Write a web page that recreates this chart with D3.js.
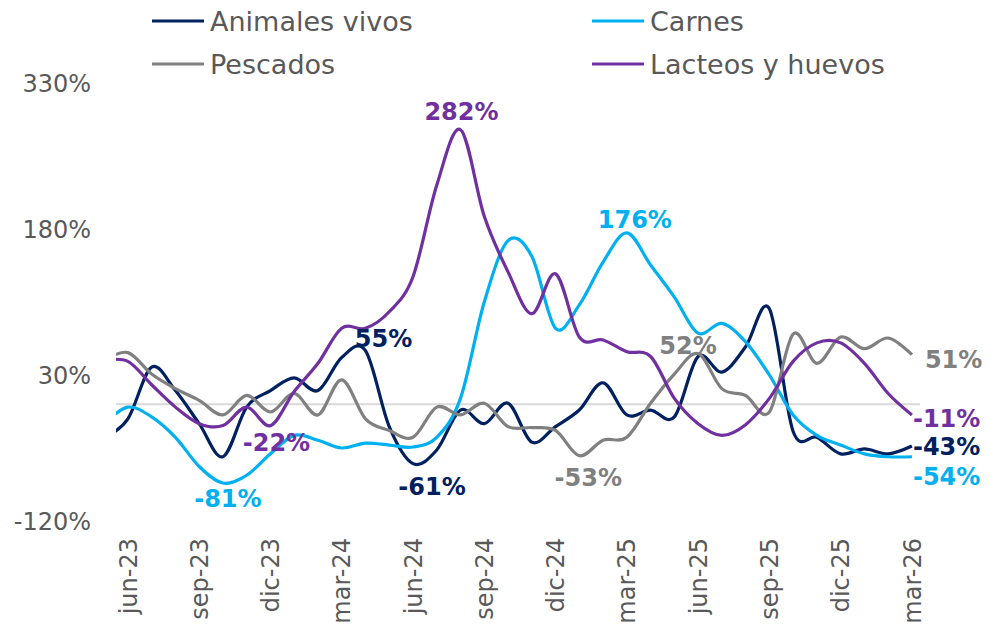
<!DOCTYPE html>
<html>
<head>
<meta charset="utf-8">
<script src="https://cdn.jsdelivr.net/npm/d3@7"></script>
<style>
body { margin: 0; background: #fff; }
svg text { font-family: "DejaVu Sans", sans-serif; }
</style>
</head>
<body>
<svg id="chart" width="990" height="633"></svg>
<script>
//////////////////////////////////////////
// Datos (variacion interanual, %)
// may-23 queda fuera del area visible, como en el grafico original
var meses = ["may-23","jun-23","jul-23","ago-23","sep-23","oct-23","nov-23","dic-23",
    "ene-24","feb-24","mar-24","abr-24","may-24","jun-24","jul-24","ago-24","sep-24",
    "oct-24","nov-24","dic-24","ene-25","feb-25","mar-25","abr-25","may-25","jun-25",
    "jul-25","ago-25","sep-25","oct-25","nov-25","dic-25","ene-26","feb-26","mar-26"];

var animales = [-35,-15,38,14,-20,-54,-3,14,27,14,48,55,-23,-61,-47,-6,-20,1,-39,-23,
    -6,22,-11,-6,-13,49,33,59,98,-28,-34,-51,-46,-51,-43];
var carnes = [-20,-3,-13,-34,-64,-81,-73,-51,-32,-37,-45,-40,-42,-44,-34,6,105,168,152,78,
    102,146,176,143,110,73,83,64,30,-11,-32,-42,-51,-54,-54];
var pescados = [45,53,31,16,4,-11,9,-8,11,-11,25,-15,-27,-34,-3,-11,1,-23,-24,-27,
    -53,-37,-34,1,31,52,16,9,-8,72,42,69,57,68,51];
var lacteos = [45,44,20,-3,-20,-22,-3,-22,13,42,78,78,95,131,225,282,193,136,93,134,
    69,66,54,49,6,-20,-32,-21,6,44,63,63,42,11,-11];

var nombres = ["Animales vivos","Carnes","Pescados","Lacteos y huevos"];
var colores = ["#002060","#00B0F0","#808080","#7030A0"];
var ticksY = [-120, 30, 180, 330];
var etiquetasX = ["jun-23","sep-23","dic-23","mar-24","jun-24","sep-24","dic-24",
    "mar-25","jun-25","sep-25","dic-25","mar-26"];
//////////////////////////////////////////

var series = [animales, carnes, pescados, lacteos];
var svg = d3.select("#chart");

var x = d3.scaleLinear().domain([0.5, 34.34]).range([116, 920]);
var y = d3.scaleLinear().domain([-120, 330]).range([521, 83]);

// etiquetas de valores (posicion relativa al punto)
var etiquetas = [
    {s: 3, mes: "ago-24", dx: 1, dy: -10, anchor: "middle"},
    {s: 0, mes: "abr-24", dx: 18, dy: -4, anchor: "middle"},
    {s: 0, mes: "jun-24", dx: 19, dy: 31, anchor: "middle"},
    {s: 2, mes: "ene-25", dx: 9, dy: 30, anchor: "middle"},
    {s: 1, mes: "mar-25", dx: 8, dy: -5, anchor: "middle"},
    {s: 2, mes: "jun-25", dx: -10, dy: 0, anchor: "middle"},
    {s: 3, mes: "dic-23", dx: 6, dy: 25, anchor: "middle"},
    {s: 1, mes: "oct-23", dx: 5, dy: 24, anchor: "middle"},
    {s: 2, mes: "mar-26", dx: 13, dy: 13, anchor: "start"},
    {s: 3, mes: "mar-26", dx: 1, dy: 12, anchor: "start"},
    {s: 0, mes: "mar-26", dx: 1, dy: 9, anchor: "start"},
    {s: 1, mes: "mar-26", dx: 1, dy: 28, anchor: "start"}
];

svg.append("defs").append("clipPath").attr("id", "zona")
    .append("rect").attr("x", 116).attr("y", 0).attr("width", 804).attr("height", 633);

// linea del cero
svg.append("line")
    .attr("x1", 116).attr("x2", 920)
    .attr("y1", y(0)).attr("y2", y(0))
    .attr("stroke", "#d9d9d9").attr("stroke-width", 2);

// eje Y
svg.selectAll(".ty")
    .data(ticksY)
    .enter().append("text")
    .attr("class", "ty")
    .attr("x", 91).attr("y", d => y(d))
    .attr("dy", "0.36em")
    .attr("text-anchor", "end")
    .attr("font-size", 24)
    .attr("fill", "#595959")
    .text(d => d + "%");

// eje X
svg.selectAll(".tx")
    .data(etiquetasX)
    .enter().append("text")
    .attr("class", "tx")
    .attr("transform", d => "translate(" + x(meses.indexOf(d)) + ",538) rotate(-90)")
    .attr("dy", "0.36em")
    .attr("text-anchor", "end")
    .attr("font-size", 24)
    .attr("fill", "#595959")
    .text(d => d);

var linea = d3.line()
    .x((d, i) => x(i))
    .y(d => y(d))
    .curve(d3.curveCatmullRom.alpha(0));

svg.append("g").attr("clip-path", "url(#zona)")
    .selectAll("path")
    .data(series)
    .enter().append("path")
    .attr("d", linea)
    .attr("fill", "none")
    .attr("stroke", (d, i) => colores[i])
    .attr("stroke-width", 3.2)
    .attr("stroke-linejoin", "round");

// etiquetas de datos
svg.selectAll(".lab")
    .data(etiquetas)
    .enter().append("text")
    .attr("class", "lab")
    .attr("x", d => x(meses.indexOf(d.mes)) + d.dx)
    .attr("y", d => y(series[d.s][meses.indexOf(d.mes)]) + d.dy)
    .attr("text-anchor", d => d.anchor)
    .attr("font-size", 24)
    .attr("font-weight", "bold")
    .attr("fill", d => colores[d.s])
    .text(d => series[d.s][meses.indexOf(d.mes)] + "%");

// leyenda
var leyenda = svg.selectAll(".ley")
    .data(nombres)
    .enter().append("g")
    .attr("class", "ley")
    .attr("transform", (d, i) => "translate(" + (i % 2 === 0 ? 152 : 592) + "," + (i < 2 ? 21 : 64) + ")");

leyenda.append("line")
    .attr("x1", 0).attr("x2", 52)
    .attr("stroke", (d, i) => colores[i])
    .attr("stroke-width", 3);

leyenda.append("text")
    .attr("x", 58)
    .attr("dy", "0.36em")
    .attr("font-size", 27)
    .attr("fill", "#595959")
    .text(d => d);
</script>
</body>
</html>
